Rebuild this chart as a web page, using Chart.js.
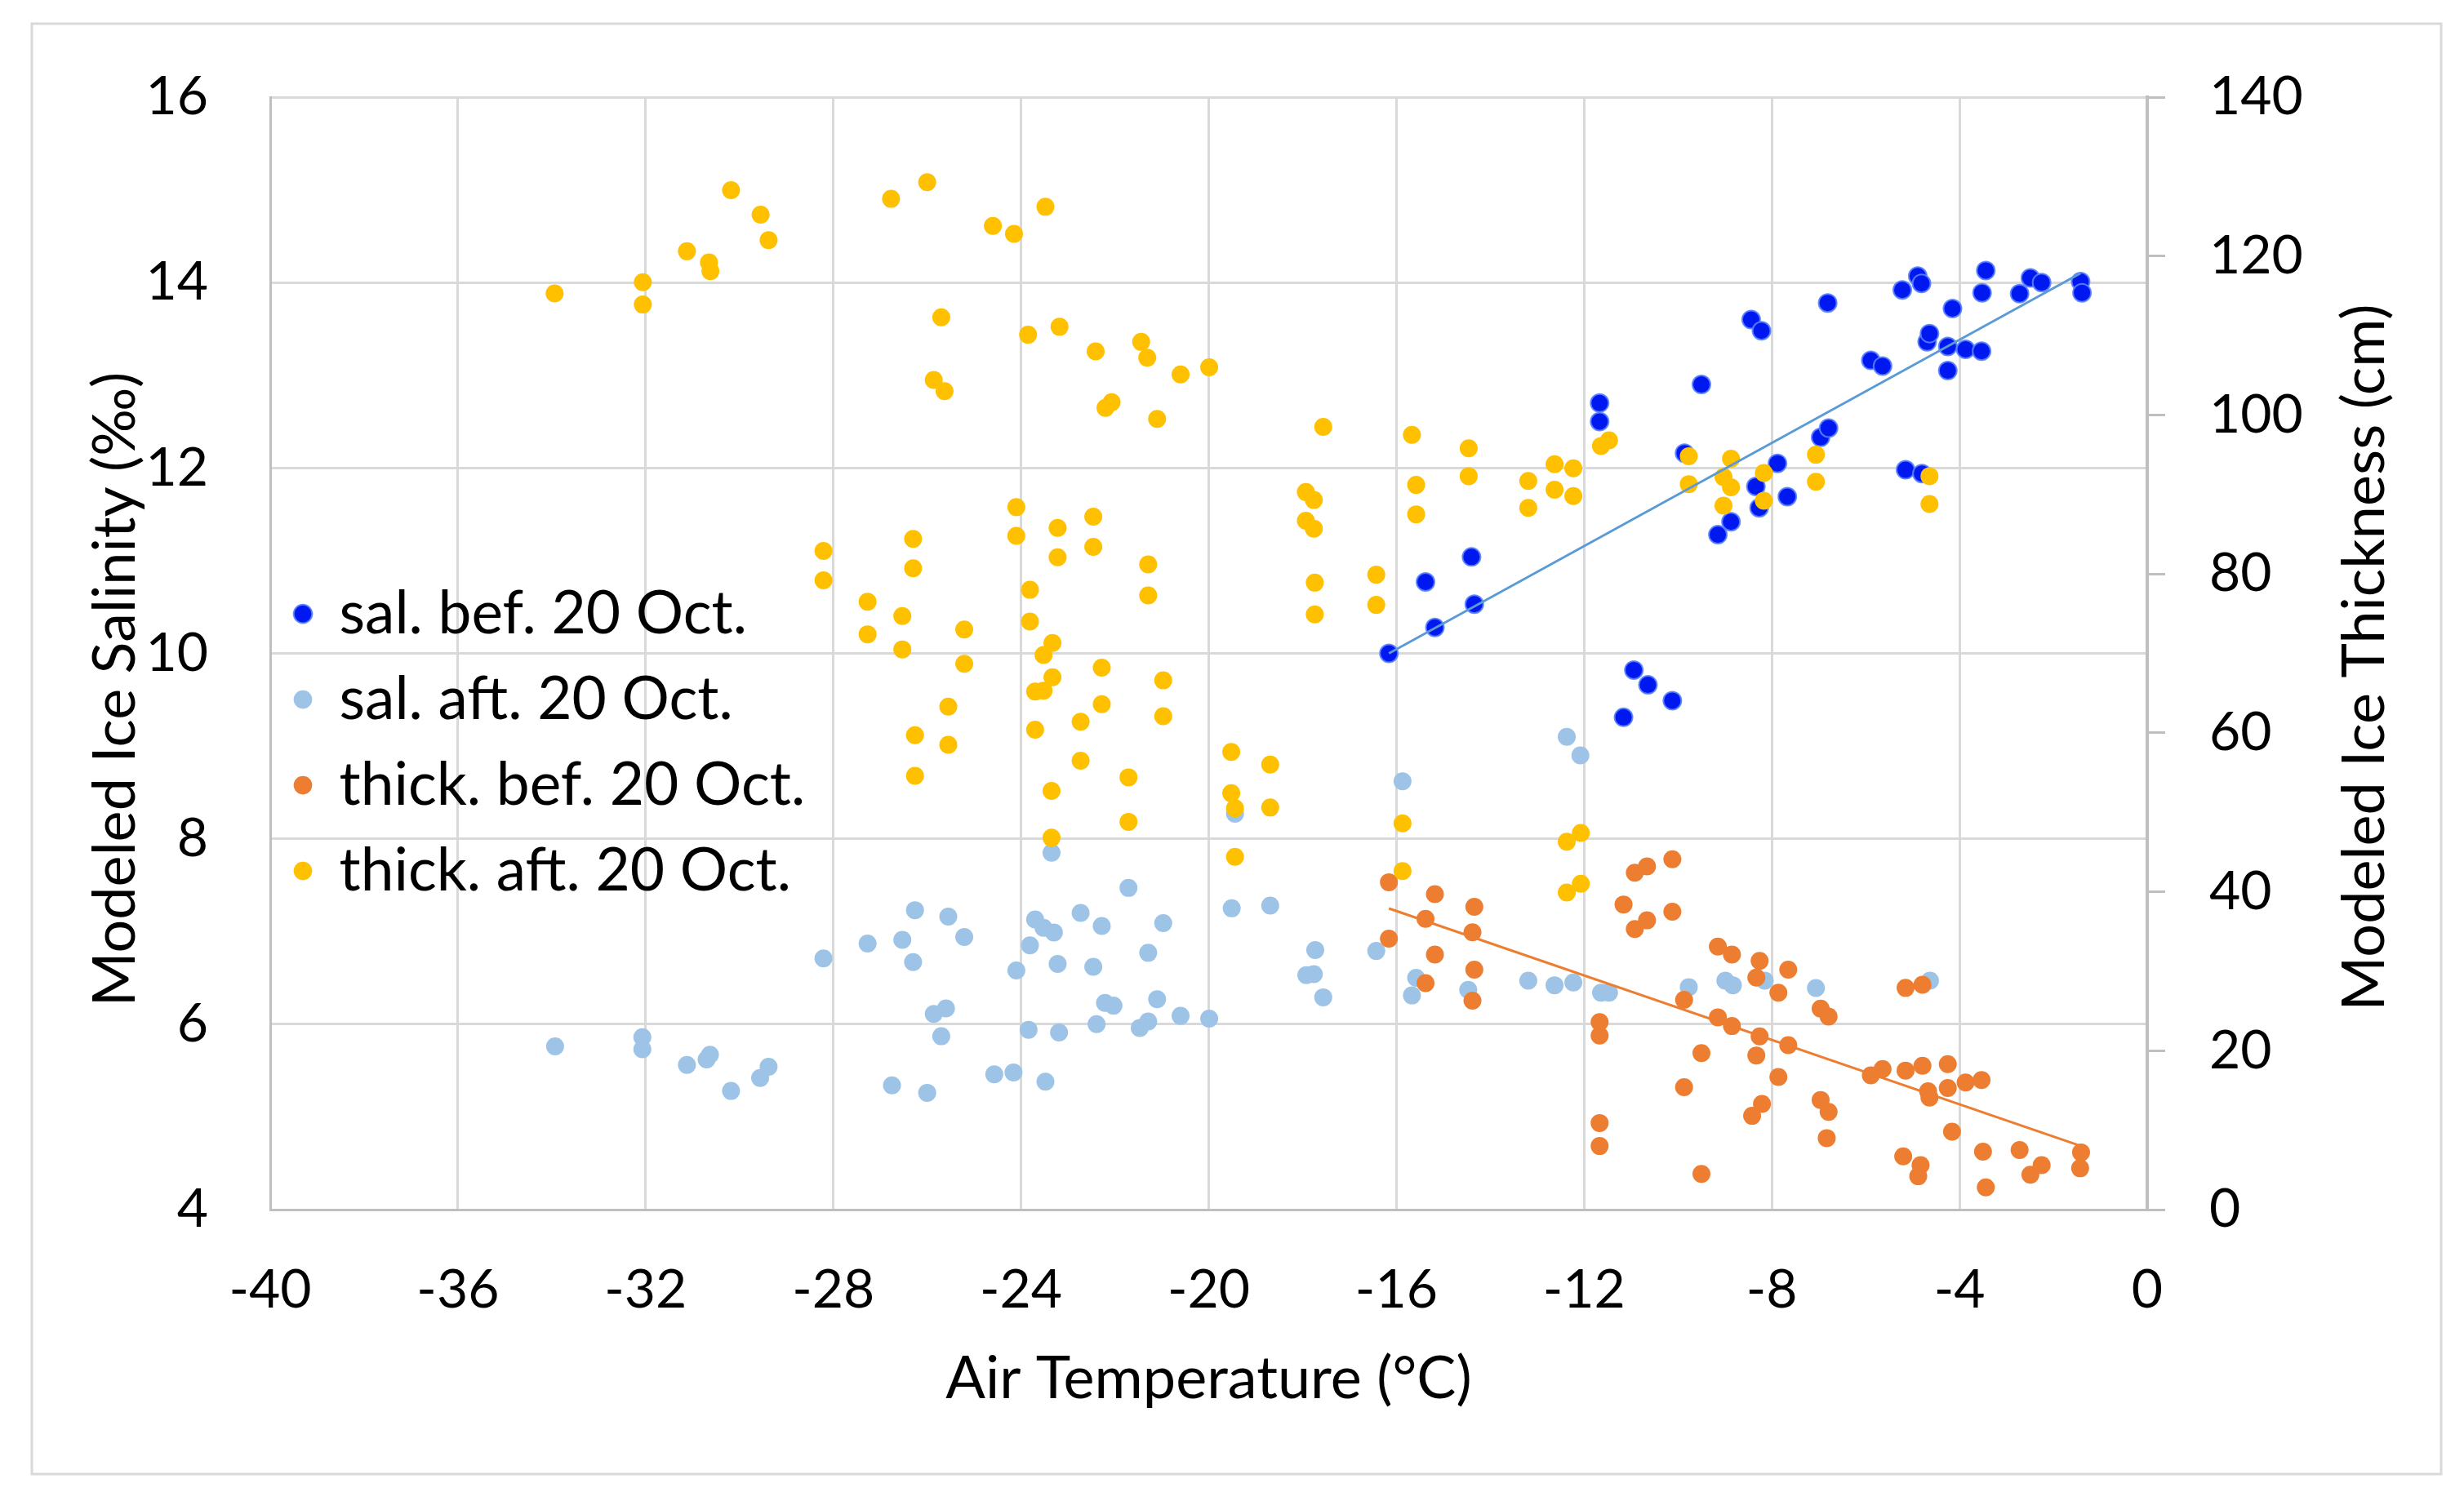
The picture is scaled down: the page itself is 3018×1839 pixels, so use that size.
<!DOCTYPE html>
<html>
<head>
<meta charset="utf-8">
<title>Modeled ice salinity and thickness vs air temperature</title>
<script src="https://cdn.jsdelivr.net/npm/chart.js@4.4.1/dist/chart.umd.min.js"></script>
<style>
  html, body { margin: 0; padding: 0; background: #fff; }
  canvas { display: block; }
</style>
</head>
<body>
<canvas id="iceChart" width="3018" height="1839" style="width:3018px;height:1839px"></canvas>
<script>
// salinity before 20 Oct (left axis, ‰)
const salBefX = [-16.16, -15.38, -15.18, -14.4, -14.34, -11.67, -11.67, -11.16, -10.94, -10.64, -10.12, -9.86, -9.5, -9.15, -8.87, -8.44, -8.34, -8.27, -8.22, -7.88, -7.67, -6.96, -6.81, -6.79, -5.89, -5.64, -5.22, -5.15, -4.89, -4.81, -4.8, -4.69, -4.64, -4.25, -4.25, -4.15, -3.87, -3.53, -3.52, -3.44, -2.72, -2.49, -2.25, -1.42, -1.39];
const salBefY = [10.0, 10.77, 10.28, 11.04, 10.53, 12.70, 12.50, 9.31, 9.82, 9.66, 9.49, 12.16, 12.90, 11.28, 11.42, 13.60, 11.80, 11.57, 13.48, 12.05, 11.69, 12.33, 13.78, 12.43, 13.16, 13.10, 13.92, 11.98, 14.07, 13.99, 11.94, 13.36, 13.45, 13.31, 13.05, 13.72, 13.28, 13.26, 13.89, 14.13, 13.88, 14.05, 14.0, 14.01, 13.89];

// salinity after 20 Oct (left axis, ‰)
const salAftX = [-33.93, -32.07, -32.07, -31.12, -30.7, -30.63, -30.18, -29.56, -29.38, -28.21, -27.27, -26.75, -26.53, -26.3, -26.26, -26.0, -25.86, -25.7, -25.6, -25.55, -25.21, -24.57, -24.16, -24.1, -23.84, -23.81, -23.7, -23.52, -23.48, -23.35, -23.3, -23.22, -23.19, -22.73, -22.46, -22.39, -22.28, -22.21, -22.03, -21.71, -21.47, -21.29, -21.29, -21.1, -20.97, -20.6, -19.99, -19.51, -19.44, -18.69, -17.92, -17.76, -17.73, -17.56, -16.43, -15.87, -15.67, -15.58, -14.47, -13.19, -12.63, -12.37, -12.23, -12.08, -11.64, -11.47, -9.77, -8.99, -8.83, -8.15, -7.06, -4.63];
const salAftY = [5.76, 5.86, 5.73, 5.56, 5.62, 5.67, 5.28, 5.42, 5.54, 6.71, 6.87, 5.34, 6.91, 6.67, 7.23, 5.26, 6.11, 5.87, 6.17, 7.16, 6.94, 5.46, 5.48, 6.58, 5.94, 6.85, 7.13, 7.04, 5.38, 7.85, 6.99, 6.65, 5.91, 7.2, 6.62, 6.0, 7.06, 6.23, 6.2, 7.47, 5.96, 6.77, 6.03, 6.27, 7.09, 6.09, 6.06, 7.25, 8.27, 7.28, 6.53, 6.54, 6.80, 6.29, 6.79, 8.62, 6.31, 6.50, 6.37, 6.47, 6.42, 9.10, 6.45, 8.90, 6.34, 6.34, 6.40, 6.47, 6.42, 6.47, 6.39, 6.47];

// thickness before 20 Oct (right axis, cm)
const thickBefX = [-16.16, -16.16, -15.38, -15.38, -15.18, -15.18, -14.38, -14.38, -14.34, -14.34, -11.67, -11.67, -11.67, -11.67, -11.16, -10.92, -10.92, -10.66, -10.66, -10.12, -10.12, -9.87, -9.87, -9.5, -9.5, -9.15, -9.15, -8.85, -8.85, -8.42, -8.33, -8.33, -8.26, -8.26, -8.21, -7.86, -7.86, -7.65, -7.65, -6.96, -6.96, -6.83, -6.79, -6.79, -5.89, -5.64, -5.2, -5.15, -5.15, -4.88, -4.83, -4.79, -4.79, -4.67, -4.64, -4.25, -4.25, -4.16, -3.87, -3.53, -3.5, -3.44, -2.72, -2.49, -2.25, -1.43, -1.41];
const thickBefY = [41.2, 34.1, 36.6, 28.5, 39.7, 32.1, 34.9, 26.3, 38.1, 30.2, 23.6, 21.9, 10.9, 8.0, 38.4, 42.4, 35.3, 43.2, 36.4, 44.1, 37.5, 26.4, 15.4, 19.7, 4.5, 33.1, 24.2, 32.1, 23.1, 11.8, 29.2, 19.4, 31.3, 21.8, 13.3, 27.3, 16.7, 30.2, 20.7, 25.3, 13.8, 9.0, 24.3, 12.3, 16.9, 17.7, 6.7, 27.9, 17.5, 4.2, 5.6, 28.3, 18.1, 14.9, 14.1, 18.3, 15.3, 9.8, 16.0, 16.3, 7.3, 2.8, 7.5, 4.4, 5.6, 5.2, 7.2];

// thickness after 20 Oct (right axis, cm)
const thickAftX = [-33.94, -32.06, -32.06, -31.12, -30.65, -30.62, -30.18, -29.55, -29.38, -28.21, -28.21, -27.27, -27.27, -26.77, -26.53, -26.53, -26.3, -26.3, -26.26, -26.26, -26.0, -25.86, -25.7, -25.63, -25.55, -25.55, -25.21, -25.21, -24.6, -24.15, -24.1, -24.1, -23.85, -23.81, -23.81, -23.7, -23.7, -23.52, -23.52, -23.48, -23.35, -23.35, -23.33, -23.33, -23.22, -23.22, -23.18, -22.73, -22.73, -22.46, -22.46, -22.41, -22.28, -22.28, -22.2, -22.07, -21.71, -21.71, -21.44, -21.31, -21.29, -21.29, -21.1, -20.97, -20.97, -20.6, -19.99, -19.52, -19.52, -19.44, -19.44, -18.69, -18.69, -17.93, -17.93, -17.76, -17.76, -17.74, -17.74, -17.56, -16.43, -16.43, -15.87, -15.87, -15.67, -15.58, -15.58, -14.46, -14.46, -13.19, -13.19, -12.63, -12.63, -12.37, -12.37, -12.23, -12.23, -12.07, -12.07, -11.64, -11.47, -9.77, -9.77, -9.03, -9.03, -8.87, -8.87, -8.17, -8.17, -7.06, -7.06, -4.64, -4.64];
const thickAftY = [115.3, 116.7, 113.9, 120.6, 119.2, 118.1, 128.3, 125.2, 122.0, 82.9, 79.2, 76.5, 72.4, 127.2, 74.7, 70.5, 84.4, 80.7, 59.7, 54.6, 129.3, 104.4, 112.3, 103.0, 63.3, 58.5, 73.0, 68.7, 123.8, 122.8, 88.4, 84.8, 110.1, 78.0, 74.0, 65.2, 60.4, 69.8, 65.3, 126.2, 52.7, 46.8, 71.3, 67.0, 85.8, 82.1, 111.1, 61.4, 56.5, 87.2, 83.4, 108.0, 68.2, 63.6, 100.9, 101.6, 54.4, 48.8, 109.2, 107.2, 81.2, 77.3, 99.5, 66.6, 62.1, 105.1, 106.0, 57.6, 52.4, 50.5, 44.4, 56.0, 50.6, 90.3, 86.7, 89.3, 85.7, 78.9, 74.9, 98.5, 79.9, 76.1, 48.6, 42.6, 97.5, 91.2, 87.5, 95.8, 92.3, 91.7, 88.3, 93.8, 90.6, 46.3, 39.9, 93.3, 89.8, 47.4, 41.0, 96.1, 96.8, 94.8, 91.3, 92.2, 88.6, 94.5, 90.9, 92.7, 89.2, 95.0, 91.6, 92.3, 88.8];

// linear trend lines, end points
const trendSalX = [-16.16, -1.42];
const trendSalY = [10.0, 14.1];
const trendThickX = [-16.16, -1.41];
const trendThickY = [37.9, 8.0];

const seriesLabels = ['sal. bef. 20 Oct.', 'sal. aft. 20 Oct.', 'thick. bef. 20 Oct.', 'thick. aft. 20 Oct.'];

const toPoints = (xs, ys) => xs.map((x, i) => ({x: x, y: ys[i]}));

const FONT = 'Lato';

// white page + thin grey frame round the figure
const frameBorder = {
    id: 'frameBorder',
    beforeDraw(chart) {
        const {ctx, width, height} = chart;
        ctx.save();
        ctx.fillStyle = '#ffffff';
        ctx.fillRect(0, 0, width, height);
        ctx.strokeStyle = '#d9d9d9';
        ctx.lineWidth = 3;
        ctx.strokeRect(39, 29, 2951, 1777);
        ctx.restore();
    }
};

// axis titles (the right one reads bottom-to-top like the left one)
const axisTitles = {
    id: 'axisTitles',
    afterDraw(chart) {
        const {ctx, chartArea: {left, right, top, bottom}} = chart;
        const midY = (top + bottom) / 2;
        ctx.save();
        ctx.fillStyle = '#000';
        ctx.font = '72px ' + FONT;
        ctx.textAlign = 'center';
        ctx.textBaseline = 'middle';

        ctx.fillText('Air Temperature (°C)', (left + right) / 2, bottom + 208);

        ctx.save();
        ctx.translate(left - 189, midY + 44);
        ctx.rotate(-Math.PI / 2);
        ctx.fillText('Modeled Ice Salinity (‰)', 0, 0);
        ctx.restore();

        ctx.save();
        ctx.translate(right + 267, midY + 5);
        ctx.rotate(-Math.PI / 2);
        ctx.fillText('Modeled Ice Thickness (cm)', 0, 0);
        ctx.restore();

        ctx.restore();
    }
};

const ctx = document.getElementById('iceChart').getContext('2d');

new Chart(ctx, {
    type: 'scatter',
    data: {
        datasets: [
            {
                label: seriesLabels[0],
                data: toPoints(salBefX, salBefY),
                backgroundColor: '#0018f0',
                borderColor: 'rgba(90, 130, 255, 0.9)',
                borderWidth: 2,
                pointRadius: 11,
                pointHoverRadius: 11,
                yAxisID: 'y',
                order: 4
            },
            {
                label: seriesLabels[1],
                data: toPoints(salAftX, salAftY),
                backgroundColor: '#9dc3e6',
                borderColor: '#9dc3e6',
                borderWidth: 0,
                pointRadius: 11,
                pointHoverRadius: 11,
                yAxisID: 'y',
                order: 3
            },
            {
                label: seriesLabels[2],
                data: toPoints(thickBefX, thickBefY),
                backgroundColor: '#ed7d31',
                borderColor: '#ed7d31',
                borderWidth: 0,
                pointRadius: 11,
                pointHoverRadius: 11,
                yAxisID: 'y2',
                order: 2
            },
            {
                label: seriesLabels[3],
                data: toPoints(thickAftX, thickAftY),
                backgroundColor: '#ffc000',
                borderColor: '#ffc000',
                borderWidth: 0,
                pointRadius: 11,
                pointHoverRadius: 11,
                yAxisID: 'y2',
                order: 1
            },
            {
                label: 'trend sal.',
                data: toPoints(trendSalX, trendSalY),
                showLine: true,
                borderColor: '#5b9bd5',
                borderWidth: 3,
                pointRadius: 0,
                yAxisID: 'y',
                order: 0
            },
            {
                label: 'trend thick.',
                data: toPoints(trendThickX, trendThickY),
                showLine: true,
                borderColor: '#ed7d31',
                borderWidth: 3,
                pointRadius: 0,
                yAxisID: 'y2',
                order: 0
            }
        ]
    },
    options: {
        responsive: false,
        animation: false,
        devicePixelRatio: 1,
        layout: {
            padding: {top: 119, left: 0, right: 0, bottom: 0}
        },
        plugins: {
            tooltip: {enabled: false},
            legend: {
                display: true,
                position: 'chartArea',
                align: 'center',
                // empty title only pushes the block a bit below the middle
                title: {
                    display: true,
                    text: ' ',
                    font: {size: 1},
                    padding: {top: 455, bottom: 0}
                },
                labels: {
                    usePointStyle: true,
                    pointStyle: 'circle',
                    boxWidth: 16,
                    boxHeight: 16,
                    padding: 32,
                    color: '#000',
                    font: {family: FONT, size: 73},
                    filter: item => item.datasetIndex < 4,
                    sort: (a, b) => a.datasetIndex - b.datasetIndex
                }
            }
        },
        scales: {
            x: {
                type: 'linear',
                position: 'bottom',
                min: -40,
                max: 0,
                afterFit: scale => { scale.height = 357; },
                grid: {
                    color: '#d9d9d9',
                    lineWidth: 3,
                    drawTicks: false
                },
                border: {color: '#bfbfbf', width: 3},
                ticks: {
                    stepSize: 4,
                    padding: 59,
                    color: '#000',
                    maxRotation: 0,
                    font: {family: FONT, size: 66}
                }
            },
            y: {
                position: 'left',
                min: 4,
                max: 16,
                afterFit: scale => { scale.width = 331; },
                grid: {
                    color: '#d9d9d9',
                    lineWidth: 3,
                    drawTicks: false
                },
                border: {color: '#bfbfbf', width: 3},
                ticks: {
                    stepSize: 2,
                    padding: 76,
                    color: '#000',
                    font: {family: FONT, size: 66}
                }
            },
            y2: {
                position: 'right',
                min: 0,
                max: 140,
                afterFit: scale => { scale.width = 388; },
                grid: {
                    drawOnChartArea: false,
                    drawTicks: true,
                    tickLength: 22,
                    color: '#bfbfbf',
                    lineWidth: 3
                },
                border: {color: '#bfbfbf', width: 4},
                ticks: {
                    stepSize: 20,
                    padding: 54,
                    color: '#000',
                    font: {family: FONT, size: 66}
                }
            }
        }
    },
    plugins: [frameBorder, axisTitles]
});
</script>
</body>
</html>
